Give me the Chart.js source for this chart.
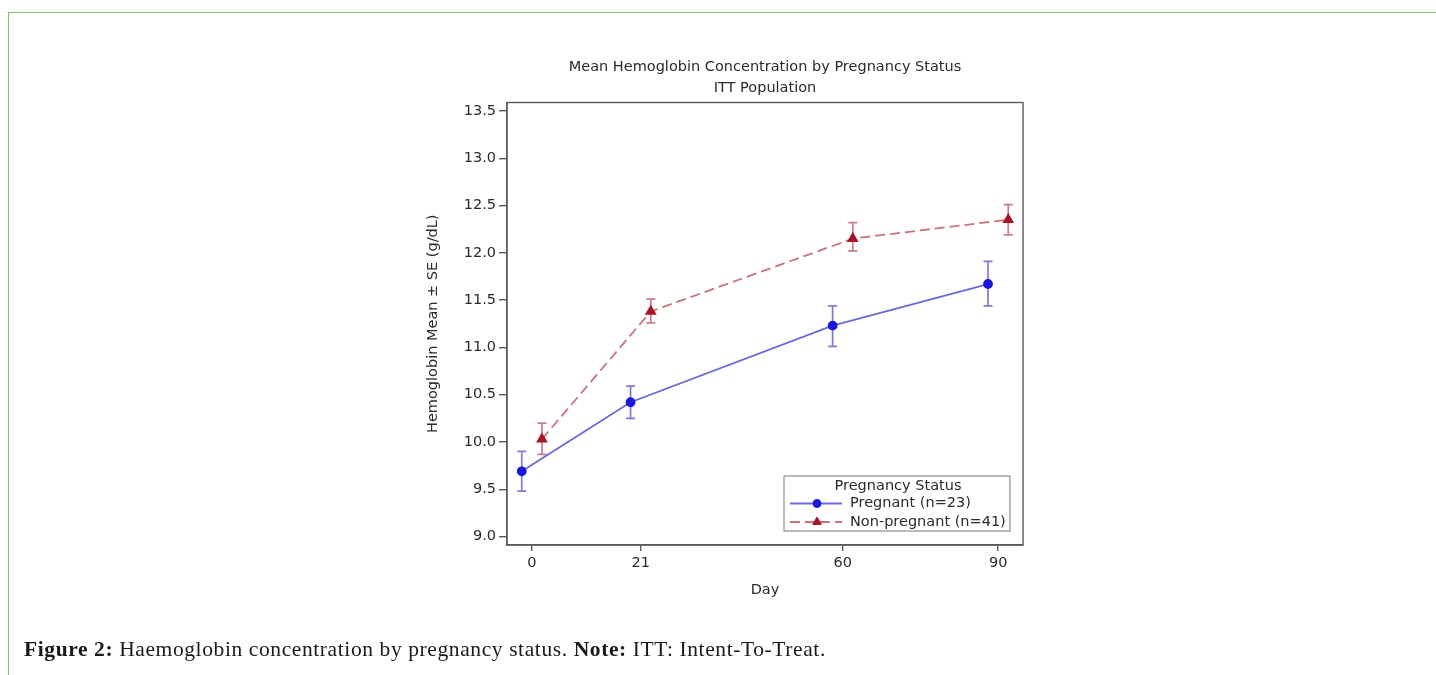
<!DOCTYPE html>
<html lang="en">
<head>
<meta charset="UTF-8" />
<title>Mean Hemoglobin Concentration by Pregnancy Status</title>
<script src="https://cdn.jsdelivr.net/npm/chart.js"></script>
<style>
  body { margin: 0; background: #fff; width: 1436px; height: 675px; overflow: hidden; position: relative; }
  .frame { position: absolute; left: 8px; top: 12px; right: 0; bottom: 0; border-top: 1.5px solid #7dc16b; border-left: 1.5px solid #7dc16b; }
  #wrap { position: absolute; left: 0; top: 0; width: 1436px; height: 675px; }
  .caption { position: absolute; left: 24px; top: 637px; font-family: 'Liberation Serif', serif; font-size: 21.5px; letter-spacing: 0.6px; color: #1a1a1a; }
</style>
</head>
<body>
<div class="frame"></div>
<div id="wrap"><canvas id="chart"></canvas></div>
<div class="caption"><b>Figure 2:</b> Haemoglobin concentration by pregnancy status. <b>Note:</b> ITT: Intent-To-Treat.</div>
<script>
// data (mean and mean +/- SE)
const days = [0, 21, 60, 90];
const pregnantMean = [9.69, 10.42, 11.23, 11.67];
const pregnantLow  = [9.48, 10.25, 11.01, 11.44];
const pregnantHigh = [9.90, 10.59, 11.44, 11.91];
const nonPregMean = [10.03, 11.38, 12.15, 12.35];
const nonPregLow  = [9.87, 11.26, 12.02, 12.19];
const nonPregHigh = [10.20, 11.51, 12.32, 12.51];
const yTicks = [9.0, 9.5, 10.0, 10.5, 11.0, 11.5, 12.0, 12.5, 13.0, 13.5];
const xTicks = [0, 21, 60, 90];

const dodge = 1.95; // groups drawn side by side around each day
const FONT = "'DejaVu Sans', sans-serif";
const TXT = '#2a2a2a';
const AXIS = '#5a5a5a';

function pts(mean, shift) {
  return days.map((d, i) => ({ x: d + shift, y: mean[i] }));
}

const errorBars = {
  id: 'errorBars',
  beforeDatasetsDraw(chart) {
    const { ctx, scales: { x, y } } = chart;
    chart.data.datasets.forEach(ds => {
      ctx.save();
      ctx.strokeStyle = ds.errColor;
      ctx.lineWidth = 1.7;
      ds.data.forEach((p, i) => {
        const px = x.getPixelForValue(p.x);
        const lo = y.getPixelForValue(ds.errLow[i]);
        const hi = y.getPixelForValue(ds.errHigh[i]);
        ctx.beginPath();
        ctx.moveTo(px, lo); ctx.lineTo(px, hi);
        ctx.moveTo(px - 4.5, lo); ctx.lineTo(px + 4.5, lo);
        ctx.moveTo(px - 4.5, hi); ctx.lineTo(px + 4.5, hi);
        ctx.stroke();
      });
      ctx.restore();
    });
  }
};

const frameBox = {
  id: 'frameBox',
  afterDraw(chart) {
    const { ctx, chartArea: a } = chart;
    ctx.save();
    ctx.strokeStyle = AXIS;
    ctx.lineWidth = 1.4;
    ctx.strokeRect(a.left, a.top, a.right - a.left, a.bottom - a.top);

    // inset legend, bottom right
    const w = 226, h = 55;
    const lx = a.right - 13 - w, ly = a.bottom - 14 - h;
    ctx.strokeStyle = '#777';
    ctx.lineWidth = 1;
    ctx.strokeRect(lx, ly, w, h);
    ctx.fillStyle = TXT;
    ctx.font = "14.5px " + FONT;
    ctx.textBaseline = 'middle';
    ctx.textAlign = 'center';
    ctx.fillText('Pregnancy Status', lx + w / 2 + 1, ly + 10);
    ctx.textAlign = 'left';
    chart.data.datasets.forEach((ds, i) => {
      const yy = ly + 27.5 + i * 18.5;
      ctx.save();
      ctx.strokeStyle = ds.borderColor;
      ctx.lineWidth = ds.borderWidth;
      ctx.setLineDash(ds.borderDash || []);
      ctx.beginPath();
      ctx.moveTo(lx + 6, yy); ctx.lineTo(lx + 58, yy);
      ctx.stroke();
      ctx.restore();
      ctx.fillStyle = ds.pointBackgroundColor;
      ctx.strokeStyle = ds.pointBorderColor;
      Chart.helpers.drawPoint(ctx, { pointStyle: ds.pointStyle, radius: ds.pointRadius, borderWidth: 1 }, lx + 33, yy);
      ctx.fillStyle = TXT;
      ctx.fillText(ds.label, lx + 66, yy);
    });
    ctx.restore();
  }
};

new Chart(document.getElementById('chart'), {
  type: 'scatter',
  data: {
    datasets: [
      {
        label: 'Pregnant (n=23)',
        data: pts(pregnantMean, -dodge),
        errLow: pregnantLow, errHigh: pregnantHigh, errColor: 'rgba(110,110,205,0.9)',
        showLine: true,
        borderColor: 'rgb(105,105,215)', borderWidth: 1.8,
        pointStyle: 'circle', pointRadius: 4,
        pointBackgroundColor: 'rgb(25,25,220)', pointBorderColor: 'rgb(25,25,220)'
      },
      {
        label: 'Non-pregnant (n=41)',
        data: pts(nonPregMean, dodge),
        errLow: nonPregLow, errHigh: nonPregHigh, errColor: 'rgba(195,110,125,0.9)',
        showLine: true,
        borderColor: 'rgb(200,115,125)', borderWidth: 1.8, borderDash: [10, 5],
        pointStyle: 'triangle', pointRadius: 5,
        pointBackgroundColor: 'rgb(170,20,40)', pointBorderColor: 'rgb(170,20,40)'
      }
    ]
  },
  options: {
    responsive: true,
    maintainAspectRatio: false,
    animation: false,
    layout: { padding: { left: 420, right: 413, top: 41, bottom: 72 } },
    plugins: {
      legend: { display: false },
      tooltip: { enabled: false },
      title: {
        display: true,
        fullSize: false,
        text: ['Mean Hemoglobin Concentration by Pregnancy Status', 'ITT Population'],
        color: TXT,
        font: { family: FONT, size: 14.5, weight: 'normal', lineHeight: 1.5 },
        padding: { top: 15, bottom: 3 }
      }
    },
    scales: {
      x: {
        type: 'linear',
        min: -4.8, max: 94.8,
        afterFit: s => { s.height = 58; },
        afterBuildTicks: s => { s.ticks = xTicks.map(v => ({ value: v })); },
        grid: { drawOnChartArea: false, drawTicks: true, tickLength: 6, color: AXIS, lineWidth: 1.4 },
        border: { display: true, color: AXIS, width: 1.4 },
        ticks: { color: TXT, padding: 4, font: { family: FONT, size: 14.5 }, callback: v => String(v) },
        title: { display: true, text: 'Day', color: TXT, font: { family: FONT, size: 14.5 }, padding: { top: 4, bottom: 4 } }
      },
      y: {
        min: 8.911, max: 13.589,
        afterFit: s => { s.width = 87; },
        afterBuildTicks: s => { s.ticks = yTicks.map(v => ({ value: v })); },
        grid: { drawOnChartArea: false, drawTicks: true, tickLength: 8, color: AXIS, lineWidth: 1.4 },
        border: { display: true, color: AXIS, width: 1.4 },
        ticks: { color: TXT, padding: 3, font: { family: FONT, size: 14.5 }, callback: v => Number(v).toFixed(1) },
        title: { display: true, text: 'Hemoglobin Mean \u00b1 SE (g/dL)', color: TXT, font: { family: FONT, size: 14.5 }, padding: { top: 5, bottom: 0 } }
      }
    }
  },
  plugins: [errorBars, frameBox]
});
</script>
</body>
</html>
